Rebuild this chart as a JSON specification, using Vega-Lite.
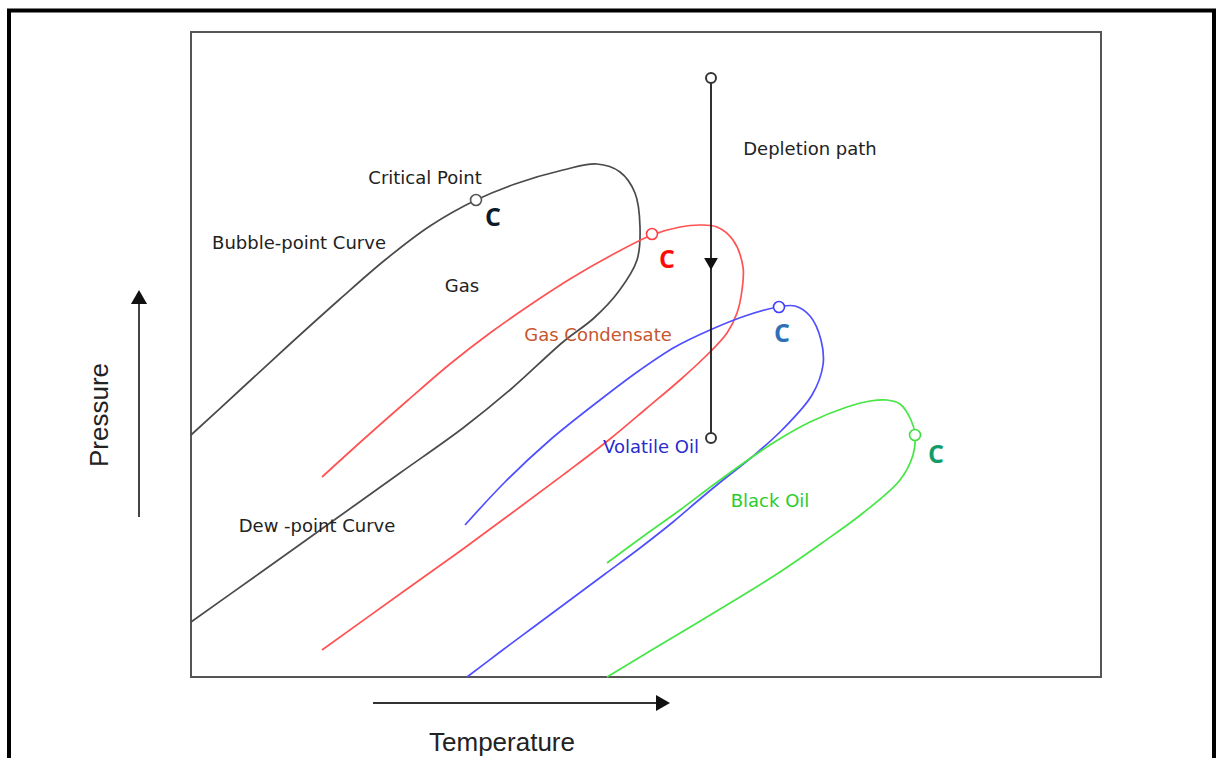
{
  "$schema": "https://vega.github.io/schema/vega-lite/v6.json",
  "width": 910,
  "height": 645,
  "autosize": "none",
  "padding": {"left": 191, "top": 32, "right": 120, "bottom": 81},
  "background": "white",
  "config": {"view": {"stroke": "#555555", "strokeWidth": 2}},
  "datasets": {
    "curves": [
      {"curve": "Gas", "i": 0, "t": 0, "p": 242},
      {"curve": "Gas", "i": 1, "t": 49, "p": 287},
      {"curve": "Gas", "i": 2, "t": 99, "p": 333},
      {"curve": "Gas", "i": 3, "t": 149, "p": 378},
      {"curve": "Gas", "i": 4, "t": 194, "p": 417},
      {"curve": "Gas", "i": 5, "t": 239, "p": 451},
      {"curve": "Gas", "i": 6, "t": 285, "p": 477},
      {"curve": "Gas", "i": 7, "t": 324, "p": 493},
      {"curve": "Gas", "i": 8, "t": 372, "p": 507},
      {"curve": "Gas", "i": 9, "t": 406, "p": 513},
      {"curve": "Gas", "i": 10, "t": 429, "p": 505},
      {"curve": "Gas", "i": 11, "t": 444, "p": 484},
      {"curve": "Gas", "i": 12, "t": 449, "p": 450},
      {"curve": "Gas", "i": 13, "t": 446, "p": 417},
      {"curve": "Gas", "i": 14, "t": 428, "p": 386},
      {"curve": "Gas", "i": 15, "t": 403, "p": 359},
      {"curve": "Gas", "i": 16, "t": 372, "p": 335},
      {"curve": "Gas", "i": 17, "t": 319, "p": 287},
      {"curve": "Gas", "i": 18, "t": 272, "p": 249},
      {"curve": "Gas", "i": 19, "t": 209, "p": 204},
      {"curve": "Gas", "i": 20, "t": 139, "p": 154},
      {"curve": "Gas", "i": 21, "t": 69, "p": 104},
      {"curve": "Gas", "i": 22, "t": 0, "p": 55},

      {"curve": "Gas Condensate", "i": 0, "t": 131, "p": 200},
      {"curve": "Gas Condensate", "i": 1, "t": 174, "p": 239},
      {"curve": "Gas Condensate", "i": 2, "t": 216, "p": 276},
      {"curve": "Gas Condensate", "i": 3, "t": 259, "p": 313},
      {"curve": "Gas Condensate", "i": 4, "t": 299, "p": 344},
      {"curve": "Gas Condensate", "i": 5, "t": 339, "p": 372},
      {"curve": "Gas Condensate", "i": 6, "t": 379, "p": 398},
      {"curve": "Gas Condensate", "i": 7, "t": 419, "p": 421},
      {"curve": "Gas Condensate", "i": 8, "t": 461, "p": 442},
      {"curve": "Gas Condensate", "i": 9, "t": 489, "p": 450},
      {"curve": "Gas Condensate", "i": 10, "t": 509, "p": 452},
      {"curve": "Gas Condensate", "i": 11, "t": 526, "p": 450},
      {"curve": "Gas Condensate", "i": 12, "t": 542, "p": 437},
      {"curve": "Gas Condensate", "i": 13, "t": 552, "p": 410},
      {"curve": "Gas Condensate", "i": 14, "t": 551, "p": 387},
      {"curve": "Gas Condensate", "i": 15, "t": 546, "p": 364},
      {"curve": "Gas Condensate", "i": 16, "t": 536, "p": 344},
      {"curve": "Gas Condensate", "i": 17, "t": 519, "p": 325},
      {"curve": "Gas Condensate", "i": 18, "t": 489, "p": 297},
      {"curve": "Gas Condensate", "i": 19, "t": 456, "p": 269},
      {"curve": "Gas Condensate", "i": 20, "t": 419, "p": 238},
      {"curve": "Gas Condensate", "i": 21, "t": 376, "p": 205},
      {"curve": "Gas Condensate", "i": 22, "t": 329, "p": 170},
      {"curve": "Gas Condensate", "i": 23, "t": 272, "p": 128},
      {"curve": "Gas Condensate", "i": 24, "t": 209, "p": 83},
      {"curve": "Gas Condensate", "i": 25, "t": 131, "p": 27},

      {"curve": "Volatile Oil", "i": 0, "t": 274, "p": 152},
      {"curve": "Volatile Oil", "i": 1, "t": 314, "p": 195},
      {"curve": "Volatile Oil", "i": 2, "t": 359, "p": 237},
      {"curve": "Volatile Oil", "i": 3, "t": 409, "p": 277},
      {"curve": "Volatile Oil", "i": 4, "t": 449, "p": 307},
      {"curve": "Volatile Oil", "i": 5, "t": 484, "p": 330},
      {"curve": "Volatile Oil", "i": 6, "t": 519, "p": 347},
      {"curve": "Volatile Oil", "i": 7, "t": 554, "p": 361},
      {"curve": "Volatile Oil", "i": 8, "t": 587, "p": 370},
      {"curve": "Volatile Oil", "i": 9, "t": 604, "p": 371},
      {"curve": "Volatile Oil", "i": 10, "t": 619, "p": 361},
      {"curve": "Volatile Oil", "i": 11, "t": 630, "p": 337},
      {"curve": "Volatile Oil", "i": 12, "t": 632, "p": 312},
      {"curve": "Volatile Oil", "i": 13, "t": 621, "p": 282},
      {"curve": "Volatile Oil", "i": 14, "t": 591, "p": 247},
      {"curve": "Volatile Oil", "i": 15, "t": 561, "p": 220},
      {"curve": "Volatile Oil", "i": 16, "t": 532, "p": 197},
      {"curve": "Volatile Oil", "i": 17, "t": 509, "p": 178},
      {"curve": "Volatile Oil", "i": 18, "t": 482, "p": 155},
      {"curve": "Volatile Oil", "i": 19, "t": 449, "p": 129},
      {"curve": "Volatile Oil", "i": 20, "t": 414, "p": 103},
      {"curve": "Volatile Oil", "i": 21, "t": 379, "p": 77},
      {"curve": "Volatile Oil", "i": 22, "t": 344, "p": 51},
      {"curve": "Volatile Oil", "i": 23, "t": 309, "p": 25},
      {"curve": "Volatile Oil", "i": 24, "t": 276, "p": 0},

      {"curve": "Black Oil", "i": 0, "t": 416, "p": 114},
      {"curve": "Black Oil", "i": 1, "t": 454, "p": 142},
      {"curve": "Black Oil", "i": 2, "t": 489, "p": 167},
      {"curve": "Black Oil", "i": 3, "t": 529, "p": 197},
      {"curve": "Black Oil", "i": 4, "t": 582, "p": 234},
      {"curve": "Black Oil", "i": 5, "t": 619, "p": 255},
      {"curve": "Black Oil", "i": 6, "t": 656, "p": 270},
      {"curve": "Black Oil", "i": 7, "t": 679, "p": 276},
      {"curve": "Black Oil", "i": 8, "t": 696, "p": 277},
      {"curve": "Black Oil", "i": 9, "t": 709, "p": 273},
      {"curve": "Black Oil", "i": 10, "t": 720, "p": 257},
      {"curve": "Black Oil", "i": 11, "t": 724, "p": 242},
      {"curve": "Black Oil", "i": 12, "t": 722, "p": 222},
      {"curve": "Black Oil", "i": 13, "t": 709, "p": 197},
      {"curve": "Black Oil", "i": 14, "t": 672, "p": 164},
      {"curve": "Black Oil", "i": 15, "t": 631, "p": 134},
      {"curve": "Black Oil", "i": 16, "t": 589, "p": 105},
      {"curve": "Black Oil", "i": 17, "t": 549, "p": 80},
      {"curve": "Black Oil", "i": 18, "t": 506, "p": 54},
      {"curve": "Black Oil", "i": 19, "t": 459, "p": 26},
      {"curve": "Black Oil", "i": 20, "t": 416, "p": 0}
    ],
    "critical": [
      {"curve": "Gas", "t": 285, "p": 477, "lt": 302, "lp": 451},
      {"curve": "Gas Condensate", "t": 461, "p": 443, "lt": 476, "lp": 409},
      {"curve": "Volatile Oil", "t": 588, "p": 370, "lt": 591, "lp": 335},
      {"curve": "Black Oil", "t": 724, "p": 242, "lt": 745, "lp": 214}
    ],
    "depletion": [
      {"stage": "start", "t": 520, "p": 599},
      {"stage": "end", "t": 520, "p": 239}
    ],
    "labels": [
      {"label": "Critical Point", "group": "ink", "t": 234, "p": 493},
      {"label": "Bubble-point Curve", "group": "ink", "t": 108, "p": 428},
      {"label": "Gas", "group": "ink", "t": 271, "p": 385},
      {"label": "Gas Condensate", "group": "condensate", "t": 407, "p": 336},
      {"label": "Depletion path", "group": "ink", "t": 619, "p": 522},
      {"label": "Volatile Oil", "group": "volatile", "t": 460, "p": 224},
      {"label": "Black Oil", "group": "black", "t": 579, "p": 170},
      {"label": "Dew -point Curve", "group": "ink", "t": 126, "p": 145}
    ]
  },
  "resolve": {"scale": {"color": "independent"}},
  "layer": [
    {
      "data": {"values": [{}]},
      "mark": {"type": "rect", "fill": null, "stroke": "black", "strokeWidth": 4},
      "encoding": {
        "x": {"datum": -182, "type": "quantitative", "scale": {"domain": [0, 910], "nice": false, "zero": false}, "axis": null},
        "x2": {"datum": 1023},
        "y": {"datum": 666.5, "type": "quantitative", "scale": {"domain": [0, 645], "nice": false, "zero": false}, "axis": null},
        "y2": {"datum": -100}
      }
    },
    {
      "data": {"name": "curves"},
      "mark": {"type": "line", "interpolate": "catmull-rom", "strokeWidth": 1.7},
      "encoding": {
        "x": {"field": "t", "type": "quantitative"},
        "y": {"field": "p", "type": "quantitative"},
        "color": {
          "field": "curve", "type": "nominal", "legend": null,
          "scale": {"domain": ["Gas", "Gas Condensate", "Volatile Oil", "Black Oil"], "range": ["#4a4a4a", "#ff5252", "#4f4fff", "#45e645"]}
        },
        "order": {"field": "i", "type": "quantitative"}
      }
    },
    {
      "data": {"name": "depletion"},
      "mark": {"type": "line", "color": "#1a1a1a", "strokeWidth": 1.8},
      "encoding": {
        "x": {"field": "t", "type": "quantitative"},
        "y": {"field": "p", "type": "quantitative"}
      }
    },
    {
      "data": {"values": [{}]},
      "mark": {"type": "point", "shape": "triangle-down", "filled": true, "color": "#111111", "size": 190, "opacity": 1},
      "encoding": {
        "x": {"datum": 520, "type": "quantitative"},
        "y": {"datum": 413, "type": "quantitative"}
      }
    },
    {
      "data": {"name": "depletion"},
      "mark": {"type": "point", "shape": "circle", "fill": "white", "stroke": "#333333", "strokeWidth": 2, "opacity": 1, "size": 100},
      "encoding": {
        "x": {"field": "t", "type": "quantitative"},
        "y": {"field": "p", "type": "quantitative"}
      }
    },
    {
      "data": {"name": "critical"},
      "mark": {"type": "point", "shape": "circle", "fill": "white", "strokeWidth": 1.6, "opacity": 1, "size": 120},
      "encoding": {
        "x": {"field": "t", "type": "quantitative"},
        "y": {"field": "p", "type": "quantitative"},
        "stroke": {
          "field": "curve", "type": "nominal", "legend": null,
          "scale": {"domain": ["Gas", "Gas Condensate", "Volatile Oil", "Black Oil"], "range": ["#555555", "#ff4040", "#4040ff", "#40e040"]}
        }
      }
    },
    {
      "data": {"name": "critical"},
      "mark": {"type": "text", "text": "C", "font": "Open Sans", "fontWeight": "bold", "fontSize": 25, "align": "center", "baseline": "alphabetic"},
      "encoding": {
        "x": {"field": "lt", "type": "quantitative"},
        "y": {"field": "lp", "type": "quantitative"},
        "color": {
          "field": "curve", "type": "nominal", "legend": null,
          "scale": {"domain": ["Gas", "Gas Condensate", "Volatile Oil", "Black Oil"], "range": ["#0d1a2b", "#ff0a0a", "#2f6fb8", "#139c6a"]}
        }
      }
    },
    {
      "data": {"name": "labels"},
      "mark": {"type": "text", "font": "DejaVu Sans", "fontSize": 18, "align": "center", "baseline": "alphabetic"},
      "encoding": {
        "x": {"field": "t", "type": "quantitative"},
        "y": {"field": "p", "type": "quantitative"},
        "text": {"field": "label"},
        "color": {
          "field": "group", "type": "nominal", "legend": null,
          "scale": {"domain": ["ink", "condensate", "volatile", "black"], "range": ["#222222", "#c8562e", "#2a2ad0", "#2ccc2c"]}
        }
      }
    },
    {
      "data": {"values": [{}]},
      "mark": {"type": "rule", "color": "#444444", "strokeWidth": 2},
      "encoding": {
        "x": {"datum": -52, "type": "quantitative"},
        "y": {"datum": 160, "type": "quantitative"},
        "y2": {"datum": 377}
      }
    },
    {
      "data": {"values": [{}]},
      "mark": {"type": "point", "shape": "triangle-up", "filled": true, "color": "#111111", "size": 260, "opacity": 1},
      "encoding": {
        "x": {"datum": -52, "type": "quantitative"},
        "y": {"datum": 380, "type": "quantitative"}
      }
    },
    {
      "data": {"values": [{}]},
      "mark": {"type": "rule", "color": "#333333", "strokeWidth": 2},
      "encoding": {
        "x": {"datum": 182, "type": "quantitative"},
        "x2": {"datum": 470},
        "y": {"datum": -26, "type": "quantitative"}
      }
    },
    {
      "data": {"values": [{}]},
      "mark": {"type": "point", "shape": "triangle-right", "filled": true, "color": "#111111", "size": 260, "opacity": 1},
      "encoding": {
        "x": {"datum": 472, "type": "quantitative"},
        "y": {"datum": -26, "type": "quantitative"}
      }
    },
    {
      "data": {"values": [{}]},
      "mark": {"type": "text", "text": "Temperature", "font": "Liberation Sans", "fontSize": 26, "align": "center", "baseline": "alphabetic", "color": "#222222"},
      "encoding": {
        "x": {"datum": 311, "type": "quantitative"},
        "y": {"datum": -74, "type": "quantitative"}
      }
    },
    {
      "data": {"values": [{}]},
      "mark": {"type": "text", "text": "Pressure", "font": "Liberation Sans", "fontSize": 26, "angle": 270, "align": "center", "baseline": "alphabetic", "color": "#222222"},
      "encoding": {
        "x": {"datum": -83, "type": "quantitative"},
        "y": {"datum": 262, "type": "quantitative"}
      }
    }
  ]
}
